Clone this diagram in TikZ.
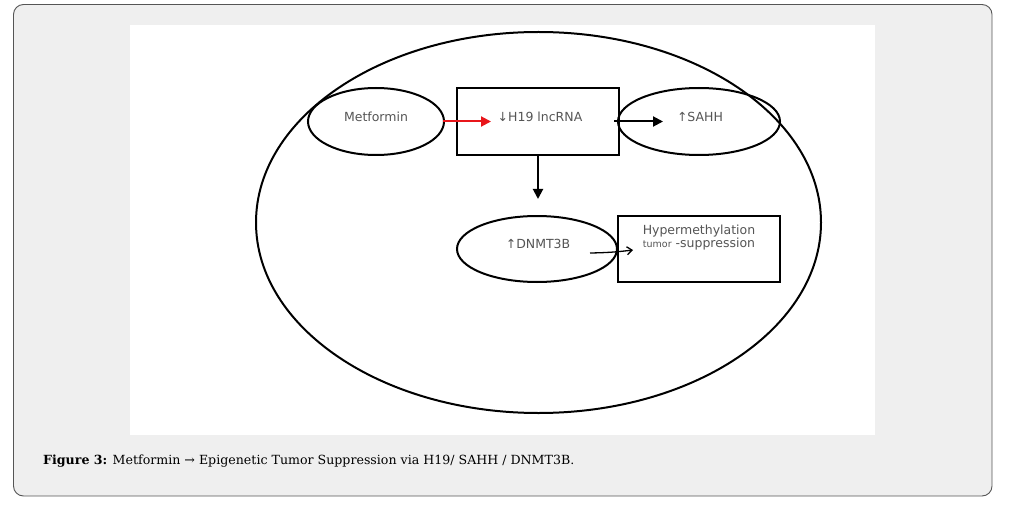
\documentclass[tikz,border=0pt]{standalone}
\usepackage{fontspec}
\setmainfont{DejaVu Serif}
\newfontfamily\diafont{DejaVu Sans}
\usetikzlibrary{arrows.meta,shapes.geometric}
\definecolor{framebg}{HTML}{EFEFEF}
\definecolor{frameline}{HTML}{555555}
\definecolor{txtgray}{HTML}{555555}
\definecolor{arrred}{HTML}{E8161B}
\tikzset{
  oval/.style={draw=black,line width=2pt,ellipse,inner sep=0pt},
  sqbox/.style={draw=black,line width=2pt,rectangle,inner sep=0pt},
  lbl/.style={font=\diafont\fontsize{12.5}{14}\selectfont,text=txtgray},
  conn/.style={line width=2pt,-{Triangle[length=10pt,width=10pt]}},
}
\begin{document}
\begin{tikzpicture}[x=1pt,y=-1pt]
\useasboundingbox (0,0) rectangle (1011,505);
% frame
\draw[fill=framebg,draw=frameline,line width=0.9pt,rounded corners=10pt] (13.5,4.5) rectangle (992,496);
\fill[white] (130,25) rectangle (875,435);
% cell
\node[oval,minimum width=565pt,minimum height=381pt] (cell) at (538.5,222.5) {};
% nodes
\node[oval,minimum width=136pt,minimum height=67pt] (met) at (376,121.5) {};
\node[lbl] at (376,117) {Metformin};
\node[sqbox,minimum width=162pt,minimum height=67pt] (h19) at (538,121.5) {};
\node[lbl] (h19t) at (540,117) {↓H19 lncRNA};
\node[oval,minimum width=162pt,minimum height=67pt] (sahh) at (699,121.5) {};
\node[lbl] (sahht) at (700,117) {↑SAHH};
\node[oval,minimum width=160pt,minimum height=66pt] (dnmt) at (537,249) {};
\node[lbl] (dnmtt) at (538,244) {↑DNMT3B};
\node[sqbox,minimum width=162pt,minimum height=66pt] (hyp) at (699,249) {};
\node[lbl,align=center] (hypt) at (699,238) {Hypermethylation\\[-1pt]{\fontsize{9.5}{10}\selectfont tumor} -suppression};
% connectors
\coordinate (r1) at (491,121.5);
\draw[conn,draw=arrred,fill=arrred] (443,121.5) -- (r1);
\coordinate (s0) at (614,121.5);
\coordinate (s1) at (663,121.5);
\draw[conn] (s0) -- (s1);
\coordinate (d1) at (538,199);
\draw[conn] (h19.south) -- (d1);
\coordinate (t0) at (590,253);
\coordinate (t1) at (633,250);
\draw[line width=1.3pt,-{Straight Barb[length=5pt,width=8pt]}] (t0) to[bend left=-3] (t1);
% caption
\node[anchor=west,font=\fontsize{12.6}{14}\selectfont,inner sep=0pt] (cap) at (43,461) {\textbf{Figure 3:} Metformin → Epigenetic Tumor Suppression via H19/ SAHH / DNMT3B.};
\end{tikzpicture}
\end{document}
